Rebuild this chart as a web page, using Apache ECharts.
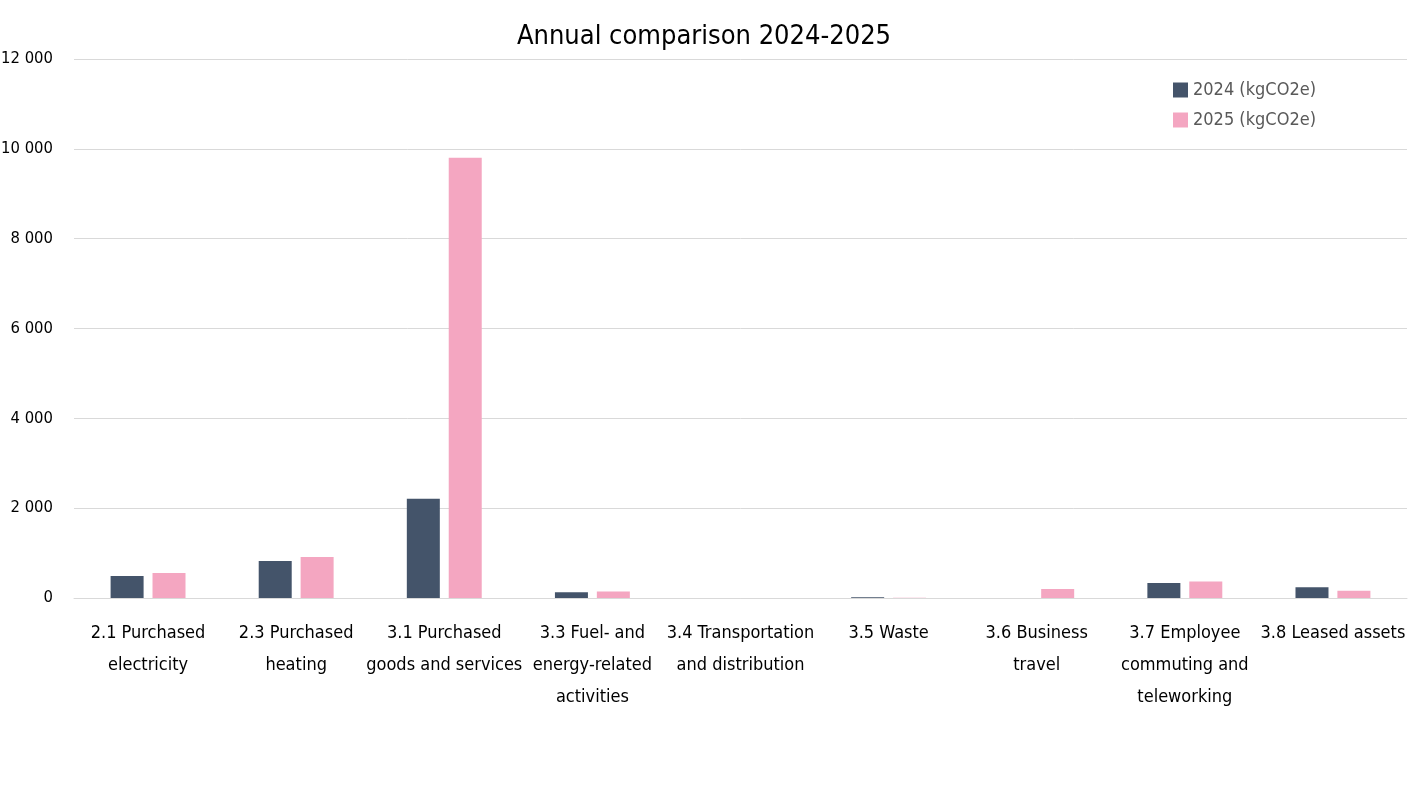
<!DOCTYPE html>
<html>
<head>
<meta charset="utf-8">
<script src="https://cdn.jsdelivr.net/npm/echarts@6/dist/echarts.min.js"></script>
<style>
html,body{margin:0;padding:0;background:#fff;}
#chart{width:1408px;height:810px;}
</style>
</head>
<body>
<div id="chart"></div>
<script>
const categories = [
  '2.1 Purchased\nelectricity',
  '2.3 Purchased\nheating',
  '3.1 Purchased\ngoods and services',
  '3.3 Fuel- and\nenergy-related\nactivities',
  '3.4 Transportation\nand distribution',
  '3.5 Waste',
  '3.6 Business\ntravel',
  '3.7 Employee\ncommuting and\nteleworking',
  '3.8 Leased assets'
];
const seriesNames = ['2024 (kgCO2e)', '2025 (kgCO2e)'];
const values2024 = [488, 822, 2207, 130, 0, 15, 0, 335, 238];
const values2025 = [555, 912, 9800, 145, 0, 7, 200, 365, 164];
const yTicks = [0, 2000, 4000, 6000, 8000, 10000, 12000];

const FONT = "'Liberation Sans Narrow','DejaVu Sans Condensed','Roboto',sans-serif";
const chart = echarts.init(document.getElementById('chart'));
chart.setOption({
  animation: false,
  backgroundColor: '#fff',
  title: {
    text: 'Annual comparison 2024-2025',
    left: 'center', top: 18,
    textStyle: {fontFamily: FONT, fontSize: 27, fontWeight: 'normal', color: '#000'}
  },
  legend: {
    orient: 'vertical', left: 1168, top: 76,
    itemWidth: 15, itemHeight: 15, itemGap: 12,
    icon: 'rect',
    textStyle: {fontFamily: FONT, fontSize: 18, color: '#595959'},
    data: seriesNames
  },
  grid: {left: 74, right: 1, top: 59, bottom: 212, containLabel: false, outerBoundsMode: 'none'},
  xAxis: {
    type: 'category', data: categories,
    axisLine: {show: true, lineStyle: {color: '#d9d9d9', width: 1}},
    axisTick: {show: false},
    axisLabel: {interval: 0, hideOverlap: false, fontFamily: FONT, fontSize: 18, color: '#000', lineHeight: 32, margin: 19, align: 'center', verticalAlign: 'top'}
  },
  yAxis: {
    type: 'value', min: yTicks[0], max: yTicks[yTicks.length-1], interval: 2000,
    axisLine: {show: false}, axisTick: {show: false},
    splitLine: {lineStyle: {color: '#d9d9d9', width: 1}},
    axisLabel: {fontFamily: FONT, fontSize: 16.5, color: '#000', margin: 21,
      formatter: v => String(v).replace(/\B(?=(\d{3})+(?!\d))/g, ' ')}
  },
  series: [
    {name: seriesNames[0], type: 'bar', data: values2024, barWidth: 33, barGap: '27%', itemStyle: {color: '#44546a'}},
    {name: seriesNames[1], type: 'bar', data: values2025, barWidth: 33, barGap: '27%', itemStyle: {color: '#f4a6c1'}}
  ]
});
</script>
</body>
</html>
